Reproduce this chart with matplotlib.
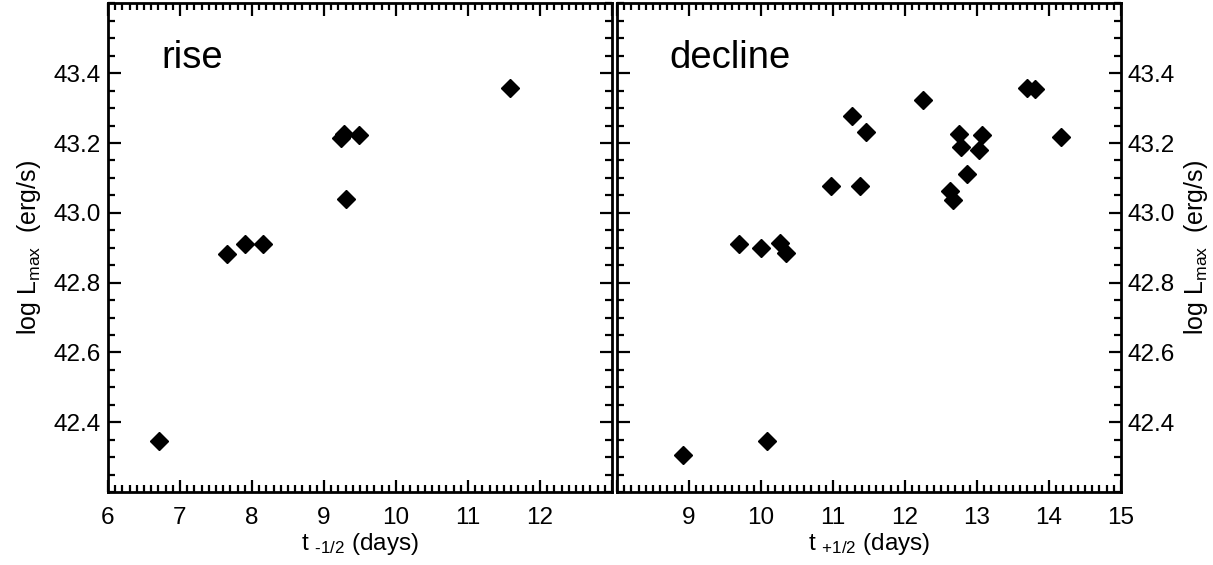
import matplotlib
matplotlib.use("Agg")
import matplotlib.pyplot as plt
from matplotlib.ticker import MultipleLocator

plt.rcParams['font.family'] = ['Liberation Sans', 'DejaVu Sans']
plt.rcParams['mathtext.fontset'] = 'custom'
plt.rcParams['mathtext.rm'] = 'Liberation Sans'
plt.rcParams['mathtext.it'] = 'Liberation Sans:italic'

# rise: t_-1/2 (days) vs log Lmax
rise_t = [6.71, 7.65, 7.91, 8.16, 9.24, 9.28, 9.48, 9.30, 11.59]
rise_L = [42.346, 42.881, 42.910, 42.912, 43.213, 43.227, 43.222, 43.040, 43.358]

# decline: t_+1/2 (days) vs log Lmax
decl_t = [8.92, 9.70, 10.00, 10.27, 10.34, 10.08, 10.97, 11.26, 11.46, 11.38,
          12.25, 12.63, 12.67, 12.75, 12.78, 12.86, 13.07, 13.03, 13.70, 13.81, 14.16]
decl_L = [42.306, 42.912, 42.899, 42.914, 42.884, 42.345, 43.076, 43.278, 43.232, 43.076,
          43.322, 43.062, 43.038, 43.227, 43.188, 43.111, 43.223, 43.181, 43.358, 43.355, 43.216]

rise_xticks = [6, 7, 8, 9, 10, 11, 12, 13]
rise_xlabels = ['6', '7', '8', '9', '10', '11', '12', '']
decl_xticks = [8, 9, 10, 11, 12, 13, 14, 15]
decl_xlabels = ['', '9', '10', '11', '12', '13', '14', '15']
yticks = [42.4, 42.6, 42.8, 43.0, 43.2, 43.4]
ylabels = ['42.4', '42.6', '42.8', '43.0', '43.2', '43.4']

fig = plt.figure(figsize=(12.13, 5.65), dpi=100)
ax1 = fig.add_axes([0.089, 0.129, 0.4155, 0.865])
ax2 = fig.add_axes([0.5087, 0.129, 0.4155, 0.865])

ylab = r'log L$_{\rm max}$  (erg/s)'

for ax in (ax1, ax2):
    ax.set_ylim(42.2, 43.6)
    ax.set_yticks(yticks)
    ax.set_yticklabels(ylabels)
    ax.xaxis.set_minor_locator(MultipleLocator(0.1))
    ax.yaxis.set_minor_locator(MultipleLocator(0.05))
    ax.tick_params(which='both', direction='in', top=True, right=True, left=True,
                   bottom=True, width=1.6, labelsize=17.5)
    ax.tick_params(axis='x', pad=11)
    ax.tick_params(axis='y', pad=5)
    ax.tick_params(which='major', length=9)
    ax.tick_params(which='minor', length=5)
    for s in ax.spines.values():
        s.set_linewidth(2)

ax1.plot(rise_t, rise_L, 'D', color='black', markersize=9.5, linestyle='none')
ax1.set_xlim(6, 13)
ax1.set_xticks(rise_xticks)
ax1.set_xticklabels(rise_xlabels)
ax1.set_xlabel(r't $_{\text{-1/2}}$ (days)', fontsize=17.5, labelpad=1)
ax1.set_ylabel(ylab, fontsize=18, labelpad=8)
ax1.text(0.105, 0.867, 'rise', transform=ax1.transAxes, fontsize=27.5)

ax2.plot(decl_t, decl_L, 'D', color='black', markersize=9.5, linestyle='none')
ax2.set_xlim(8, 15)
ax2.set_xticks(decl_xticks)
ax2.set_xticklabels(decl_xlabels)
ax2.set_xlabel(r't $_{\text{+1/2}}$ (days)', fontsize=17.5, labelpad=1)
ax2.yaxis.tick_right()
ax2.tick_params(which='both', left=True, right=True)
ax2.yaxis.set_label_position('right')
ax2.set_ylabel(ylab, fontsize=18, labelpad=5)
ax2.text(0.104, 0.867, 'decline', transform=ax2.transAxes, fontsize=27.5)

fig.savefig('out.png', dpi=100)
